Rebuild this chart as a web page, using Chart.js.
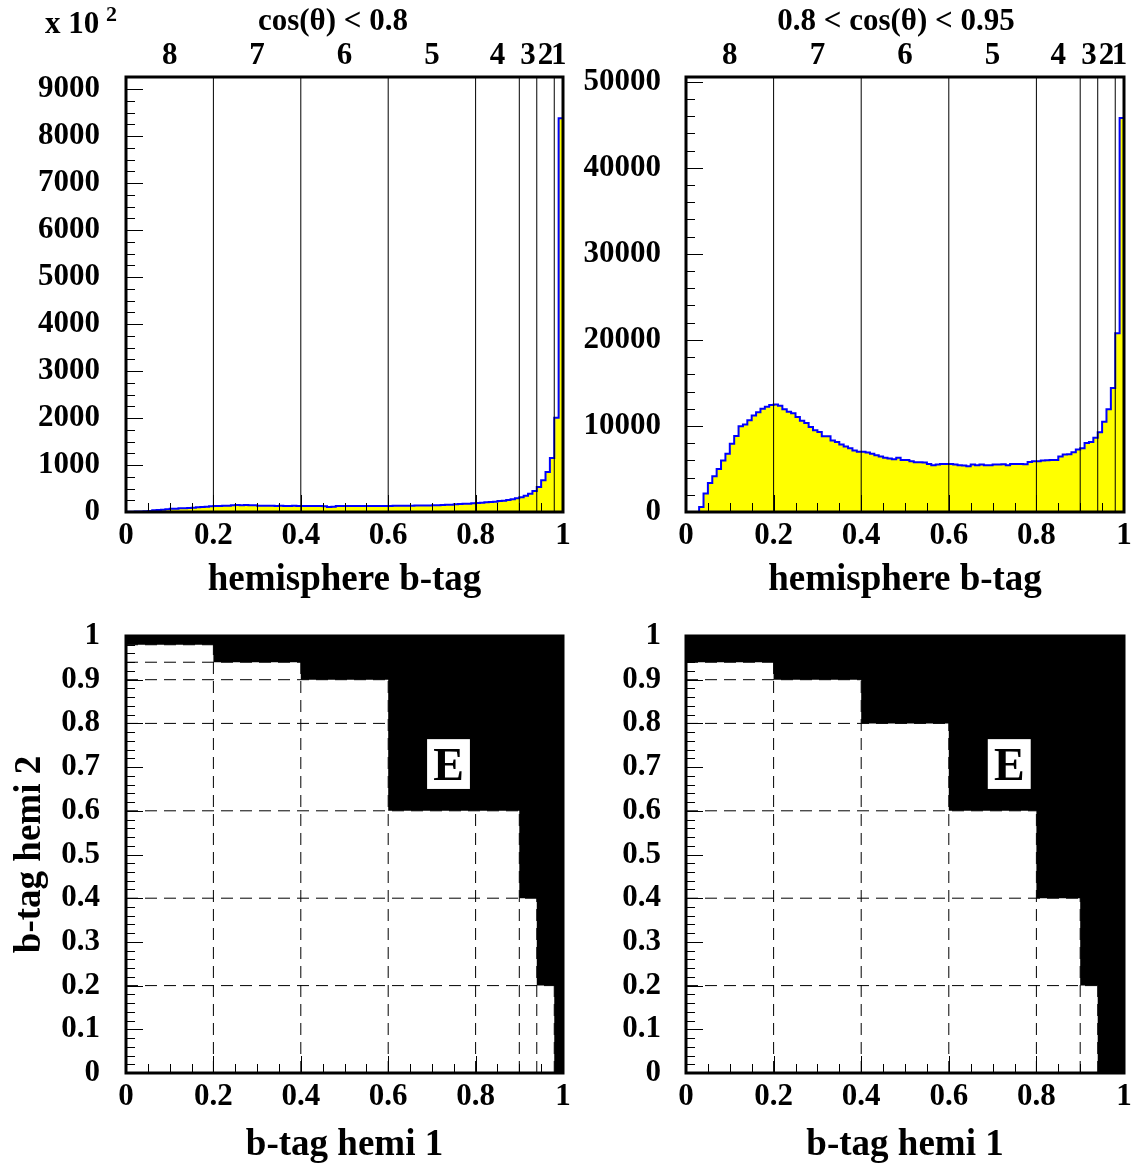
<!DOCTYPE html>
<html>
<head>
<meta charset="utf-8">
<title>hemisphere b-tag</title>
<script src="https://cdn.jsdelivr.net/npm/chart.js@4.4.1/dist/chart.umd.min.js"></script>
<style>
  html, body { margin: 0; padding: 0; background: #fff; }
  #page { position: relative; width: 1133px; height: 1169px; overflow: hidden; }
  canvas { position: absolute; }
</style>
</head>
<body>
<div id="page">
  <canvas id="hA" width="600" height="610" style="left:0;top:0"></canvas>
  <canvas id="hB" width="567" height="610" style="left:566px;top:0"></canvas>
  <canvas id="eA" width="600" height="559" style="left:0;top:610px"></canvas>
  <canvas id="eB" width="567" height="559" style="left:566px;top:610px"></canvas>
</div>
<script>
/* b-tag hemisferio: histogramas por cos(theta) y region E en el plano hemi1/hemi2 */
const FONT = '"Liberation Serif", "Times New Roman", serif';

// 100 bins de 0.01 en b-tag
const BIN_EDGES = Array.from({ length: 101 }, (_, i) => +(i / 100).toFixed(2));

// cos(theta) < 0.8, en unidades de 10^2
const HIST_A = [
  5, 5, 8, 10, 15, 21, 36, 43, 50, 57,
  71, 71, 78, 78, 85, 92, 100, 107, 114, 121,
  128, 128, 135, 135, 142, 149, 142, 149, 142, 142,
  135, 135, 135, 135, 130, 135, 130, 130, 135, 130,
  130, 130, 130, 130, 128, 121, 107, 114, 128, 128,
  128, 128, 130, 128, 128, 130, 130, 128, 130, 130,
  130, 133, 133, 135, 135, 135, 138, 138, 140, 140,
  142, 145, 149, 152, 156, 163, 170, 174, 178, 185,
  192, 199, 206, 213, 220, 234, 242, 256, 270, 291,
  313, 348, 391, 448, 530, 675, 853, 1151, 2004, 8382,
];

// 0.8 < cos(theta) < 0.95
const HIST_B = [
  0, 0, 0, 590, 2150, 3360, 4140, 5000, 5980, 6760,
  7930, 8830, 9960, 10160, 10660, 11210, 11600, 11990, 12230, 12420,
  12500, 12340, 11950, 11640, 11480, 11050, 10590, 10350, 9880, 9490,
  9300, 8790, 8790, 8320, 8120, 7850, 7620, 7420, 7150, 6990,
  6990, 6910, 6760, 6600, 6450, 6290, 6210, 6130, 6290, 6050,
  6050, 5900, 5780, 5780, 5740, 5590, 5430, 5510, 5590, 5590,
  5590, 5510, 5430, 5390, 5310, 5510, 5430, 5510, 5430, 5430,
  5510, 5510, 5550, 5430, 5590, 5590, 5590, 5550, 5820, 5900,
  5900, 5980, 6020, 6050, 6050, 6450, 6680, 6720, 6950, 7270,
  7420, 8010, 8120, 8630, 9260, 10500, 11940, 14400, 20780, 45780,
];

// cortes entre categorias 8..1
const CUTS = [0.2, 0.4, 0.6, 0.8, 0.9, 0.94, 0.98];
const CAT_CENTERS = [0.1, 0.3, 0.5, 0.7, 0.85, 0.92, 0.96, 0.99];
const CAT_LABELS = ['8', '7', '6', '5', '4', '3', '2', '1'];

// region E: limite superior de hemi 2 (zona blanca) por intervalo de hemi 1
const E_EDGES = [0, 0.2, 0.4, 0.6, 0.8, 0.9, 0.94, 0.98, 1];
const E_LIMIT_A = [0.98, 0.94, 0.9, 0.6, 0.6, 0.4, 0.2, 0];
const E_LIMIT_B = [0.94, 0.9, 0.8, 0.6, 0.4, 0.2, 0, 0];

const X_TICKS = [0, 0.2, 0.4, 0.6, 0.8, 1];
const Y_TICKS_A = [0, 1000, 2000, 3000, 4000, 5000, 6000, 7000, 8000, 9000];
const Y_TICKS_B = [0, 10000, 20000, 30000, 40000, 50000];
const Y_TICKS_E = [0, 0.1, 0.2, 0.3, 0.4, 0.5, 0.6, 0.7, 0.8, 0.9, 1];
const Y_MAX_A = 9260;
const Y_MAX_B = 50550;

const steps = (a, b, s) => {
  const out = [];
  for (let v = a; v <= b + 1e-9; v += s) out.push(+v.toFixed(4));
  return out;
};
const fmt = v => String(Math.round(v * 100) / 100);
const tickFont = { family: FONT, size: 31, weight: 'bold' };
const titleFont = { family: FONT, size: 37, weight: 'bold' };

// caja de eje con tamaño fijo y sin relleno extra
function fixBox(s, prop, val) {
  s[prop] = val;
  s.paddingTop = 0; s.paddingBottom = 0; s.paddingLeft = 0; s.paddingRight = 0;
}

function histPoints(vals) {
  const pts = vals.map((v, i) => ({ x: BIN_EDGES[i], y: v }));
  pts.push({ x: BIN_EDGES[vals.length], y: vals[vals.length - 1] });
  return pts;
}

function stairPoints(limits) {
  const pts = limits.map((v, i) => ({ x: E_EDGES[i], y: v }));
  pts.push({ x: E_EDGES[limits.length], y: limits[limits.length - 1] });
  return pts;
}

function lineSet(data, extra) {
  return Object.assign({ data, borderColor: '#000', borderWidth: 1, pointRadius: 0, fill: false, order: 1 }, extra || {});
}

// marco grueso, ticks hacia dentro, textos sueltos, caja E
function rootDeco(o) {
  return {
    id: 'rootDeco',
    beforeDatasetsDraw(chart) {
      if (!o.background) return;
      const a = chart.chartArea;
      const ctx = chart.ctx;
      ctx.save();
      ctx.fillStyle = o.background;
      ctx.fillRect(a.left, a.top, a.right - a.left, a.bottom - a.top);
      ctx.restore();
    },
    afterDatasetsDraw(chart) {
      const { ctx, chartArea: a, scales } = chart;
      ctx.save();
      if (o.box) {
        const x0 = scales.x.getPixelForValue(o.box.x0), x1 = scales.x.getPixelForValue(o.box.x1);
        const y0 = scales.y.getPixelForValue(o.box.y0), y1 = scales.y.getPixelForValue(o.box.y1);
        ctx.fillStyle = '#fff';
        ctx.fillRect(x0, y1, x1 - x0, y0 - y1);
        ctx.fillStyle = '#000';
        ctx.font = 'bold 46px ' + FONT;
        ctx.textAlign = 'center';
        ctx.textBaseline = 'alphabetic';
        ctx.fillText(o.box.text, (x0 + x1) / 2, (y0 + y1) / 2 + 16);
      }
      ctx.strokeStyle = '#000';
      ctx.lineWidth = 1;
      ctx.beginPath();
      const xt = (vals, len) => vals.forEach(v => {
        const px = Math.round(scales.x.getPixelForValue(v)) + 0.5;
        ctx.moveTo(px, a.bottom);
        ctx.lineTo(px, a.bottom - len);
      });
      const yt = (vals, len) => vals.forEach(v => {
        const py = Math.round(scales.y.getPixelForValue(v)) + 0.5;
        ctx.moveTo(a.left, py);
        ctx.lineTo(a.left + len, py);
      });
      xt(o.xMajor, 17); xt(o.xMinor, 9);
      yt(o.yMajor, 17); yt(o.yMinor, 9);
      ctx.stroke();
      ctx.lineWidth = 3;
      ctx.strokeRect(a.left, a.top, a.right - a.left, a.bottom - a.top);
      ctx.restore();
    },
    afterDraw(chart) {
      if (!o.texts) return;
      const ctx = chart.ctx;
      ctx.save();
      ctx.fillStyle = '#000';
      ctx.textBaseline = 'alphabetic';
      o.texts.forEach(t => {
        ctx.font = 'bold ' + t.size + 'px ' + FONT;
        ctx.textAlign = t.align || 'center';
        ctx.fillText(t.text, t.x, t.y);
      });
      ctx.restore();
    },
  };
}

function baseScales(g) {
  return {
    x: {
      type: 'linear', min: 0, max: 1, position: 'bottom',
      grid: { display: false, drawTicks: false }, border: { display: false },
      afterBuildTicks: s => { s.ticks = X_TICKS.map(v => ({ value: v })); },
      afterFit: s => fixBox(s, 'height', g.xHeight),
      ticks: { font: tickFont, color: '#000', padding: 5, autoSkip: false, maxRotation: 0, minRotation: 0, callback: v => fmt(v) },
      title: { display: true, text: g.xTitle, font: titleFont, color: '#000', padding: { top: 0, bottom: g.xTitlePad } },
    },
    y: {
      type: 'linear', min: 0, max: g.yMax, position: 'left',
      grid: { display: false, drawTicks: false }, border: { display: false },
      afterBuildTicks: s => { s.ticks = g.yTicks.map(v => ({ value: v })); },
      afterFit: s => fixBox(s, 'width', g.yWidth),
      ticks: { font: tickFont, color: '#000', padding: g.yPad, autoSkip: false, callback: v => fmt(v) },
      title: { display: !!g.yTitle, text: g.yTitle || '', font: titleFont, color: '#000', padding: { top: 8, bottom: 0 } },
    },
  };
}

function commonOptions(padTop, padRight, scales) {
  return {
    responsive: false, animation: false, events: [],
    layout: { padding: { left: 0, top: padTop, right: padRight, bottom: 0 } },
    plugins: { legend: { display: false }, tooltip: { enabled: false } },
    scales,
  };
}

function histChart(id, vals, g, deco) {
  const scales = baseScales(g);
  // numeros de categoria sobre el marco
  scales.xCut = {
    type: 'linear', min: 0, max: 1, position: 'top',
    grid: { display: false, drawTicks: false }, border: { display: false },
    afterBuildTicks: s => { s.ticks = CAT_CENTERS.map(v => ({ value: v })); },
    afterFit: s => fixBox(s, 'height', 40),
    ticks: { font: tickFont, color: '#000', padding: 2, autoSkip: false, maxRotation: 0, minRotation: 0, callback: (v, i) => CAT_LABELS[i] },
  };
  return new Chart(document.getElementById(id), {
    type: 'line',
    data: {
      datasets: [
        { data: histPoints(vals), stepped: 'before', borderColor: '#0000ff', borderWidth: 2, backgroundColor: '#ffff00', fill: 'origin', pointRadius: 0, order: 2 },
        ...CUTS.map(c => lineSet([{ x: c, y: 0 }, { x: c, y: g.yMax }])),
      ],
    },
    options: commonOptions(37, g.padRight, scales),
    plugins: [rootDeco(deco)],
  });
}

function regionChart(id, limits, g, deco) {
  const dash = { borderDash: [12, 7], borderColor: '#000' };
  return new Chart(document.getElementById(id), {
    type: 'line',
    data: {
      datasets: [
        { data: stairPoints(limits), stepped: 'before', borderWidth: 0, borderColor: 'rgba(0,0,0,0)', backgroundColor: '#ffffff', fill: 'origin', pointRadius: 0, order: 2 },
        ...CUTS.map(c => lineSet([{ x: c, y: 0 }, { x: c, y: 1 }], dash)),
        ...CUTS.map(c => lineSet([{ x: 0, y: c }, { x: 1, y: c }], dash)),
      ],
    },
    options: commonOptions(26, g.padRight, baseScales(g)),
    plugins: [rootDeco(deco)],
  });
}

const E_BOX = { x0: 0.689, x1: 0.787, y0: 0.65, y1: 0.764, text: 'E' };

histChart('hA', HIST_A,
  { xHeight: 98, xTitle: 'hemisphere b-tag', xTitlePad: 7, yMax: Y_MAX_A, yTicks: Y_TICKS_A, yWidth: 126, yPad: 26, padRight: 37 },
  {
    xMajor: X_TICKS, xMinor: steps(0.05, 0.95, 0.05),
    yMajor: Y_TICKS_A, yMinor: steps(250, Y_MAX_A, 250),
    texts: [
      { text: 'x 10', x: 45, y: 33, size: 31, align: 'left' },
      { text: '2', x: 106, y: 21, size: 22, align: 'left' },
      { text: 'cos(θ) < 0.8', x: 333, y: 30, size: 31 },
    ],
  });

histChart('hB', HIST_B,
  { xHeight: 98, xTitle: 'hemisphere b-tag', xTitlePad: 7, yMax: Y_MAX_B, yTicks: Y_TICKS_B, yWidth: 120, yPad: 25, padRight: 9 },
  {
    xMajor: X_TICKS, xMinor: steps(0.05, 0.95, 0.05),
    yMajor: Y_TICKS_B, yMinor: steps(2000, Y_MAX_B, 2000),
    texts: [{ text: '0.8 < cos(θ) < 0.95', x: 330, y: 30, size: 31 }],
  });

regionChart('eA', E_LIMIT_A,
  { xHeight: 96, xTitle: 'b-tag hemi 1', xTitlePad: 1, yMax: 1, yTicks: Y_TICKS_E, yWidth: 126, yPad: 26, yTitle: 'b-tag hemi 2', padRight: 37 },
  {
    background: '#000', box: E_BOX,
    xMajor: X_TICKS, xMinor: steps(0.05, 0.95, 0.05),
    yMajor: Y_TICKS_E, yMinor: steps(0.02, 0.98, 0.02),
  });

regionChart('eB', E_LIMIT_B,
  { xHeight: 96, xTitle: 'b-tag hemi 1', xTitlePad: 1, yMax: 1, yTicks: Y_TICKS_E, yWidth: 120, yPad: 25, padRight: 9 },
  {
    background: '#000', box: E_BOX,
    xMajor: X_TICKS, xMinor: steps(0.05, 0.95, 0.05),
    yMajor: Y_TICKS_E, yMinor: steps(0.02, 0.98, 0.02),
  });
</script>
</body>
</html>
